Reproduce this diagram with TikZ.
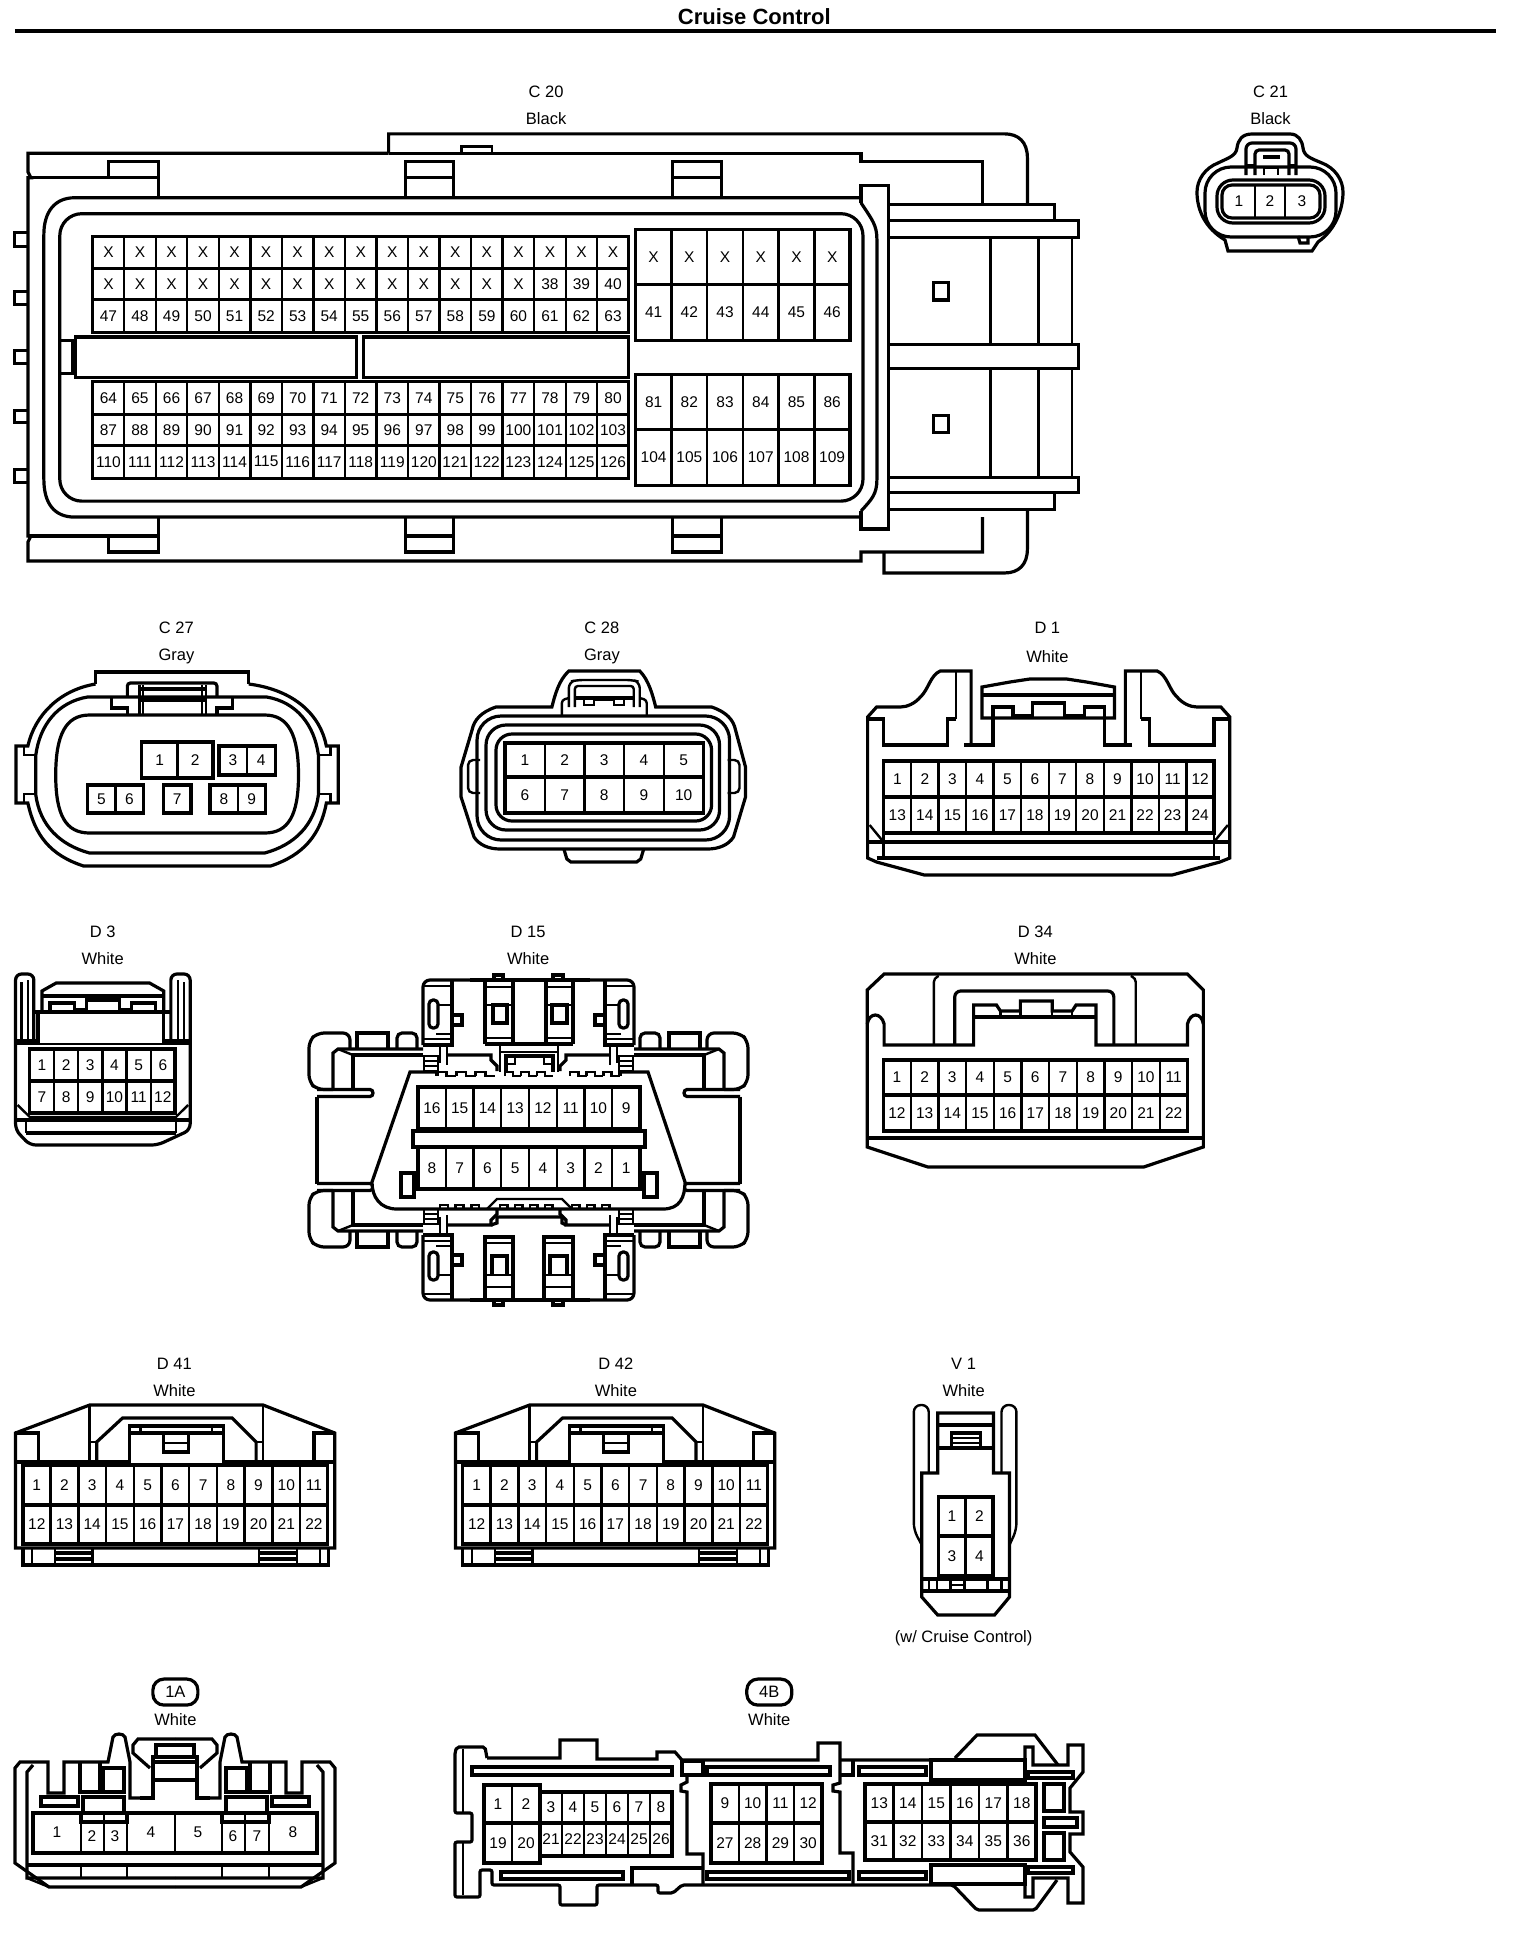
\documentclass[tikz,border=0pt]{standalone}
\usepackage{fontspec}
\setmainfont{Liberation Sans}
\tikzset{
 oline/.style={line width=3.2pt,line join=miter,line cap=butt},
 tline/.style={line width=2.4pt,line join=miter,line cap=butt},
 pin/.style={inner sep=0pt,font=\fontsize{15.5}{16}\selectfont},
 lab/.style={inner sep=0pt,font=\fontsize{16.5}{18}\selectfont},
}
% x0 x1 y0 y1 ncols list
\newcommand\pinrow[6]{%
 \pgfmathsetmacro\wcell{(#2-#1)/#5}%
 \foreach \t [count=\i from 0] in {#6}{%
  \pgfmathsetmacro\xa{#1+\i*\wcell}%
  \pgfmathsetmacro\xb{\xa+\wcell}%
  \draw[tline] (\xa,#3) rectangle (\xb,#4);
  \node[pin] at ({(\xa+\xb)/2},{(#3+#4)/2}) {\t};
 }%
 \draw[oline] (#1,#3) rectangle (#2,#4);
}
% teeth x0 x1 y h n
\newcommand\teethrow[5]{%
 \pgfmathsetmacro\wt{(#2-#1)/#5}%
 \foreach \i in {1,...,#5}{%
  \pgfmathsetmacro\ta{#1+(\i-1)*\wt}%
  \pgfmathsetmacro\tb{\ta+\wt/2}%
  \pgfmathsetmacro\tc{\ta+\wt}%
  \draw[tline] (\ta,#3) -- (\ta,{#3-#4}) -- (\tb,{#3-#4}) -- (\tb,#3) -- (\tc,#3);
 }}
% D15 corner group (top-left orientation)
\newcommand\dfcorner{%
 \draw[oline,rounded corners=7pt] (350,1048) -- (350,1033) -- (317,1033) -- (309,1041) -- (309,1082) -- (317,1089.5) -- (333,1089.5);
 \draw[oline] (357,1048) -- (357,1033) -- (388,1033) -- (388,1048);
 \draw[oline,rounded corners=5pt] (397,1048) -- (397,1033) -- (417,1033) -- (417,1048);
 \draw[oline] (333,1089) -- (333,1053) -- (338,1049) -- (423,1049);
 \draw[oline] (353,1089) -- (353,1055) -- (423,1055);
 \draw[tline] (338,1049) -- (353,1055);
 \draw[oline] (317,1089.5) -- (370,1089.5) .. controls (374,1089.5) and (374,1096.5) .. (370,1096.5) -- (317,1096.5);
 % module
 \draw[oline,rounded corners=7pt] (423,1045) -- (423,980) -- (470,980);
 \draw[oline] (452,980) -- (452,1045) -- (423,1045);
 \draw[tline] (423,986) -- (452,986);
 \draw[tline] (423,1039) -- (452,1039);
 \draw[tline] (438,1005) -- (452,1005);
 \draw[tline] (436,1034) -- (452,1034);
 \draw[oline,fill=white,rounded corners=4pt] (429,1000) rectangle (438,1028);
 \draw[oline] (452,1015) rectangle (462,1025);
 % links
 \draw[tline] (440,1045) -- (440,1063);
 \draw[tline] (447,1045) -- (447,1065);
 \draw[tline] (424,1056) rectangle (438,1071);
 \draw[tline] (424,1061) -- (438,1061);
 \draw[tline] (424,1066) -- (438,1066);
 \draw[oline] (447,1055) -- (491,1055) -- (491,1060) -- (497,1066) -- (497,1071);
}
\begin{document}
\begin{tikzpicture}[x=1pt,y=-1pt]
\useasboundingbox (0,0) rectangle (1536,1936);
\begin{scope}[scale=0.9965]
\node[inner sep=0pt,font=\fontsize{22}{24}\bfseries\selectfont] (title) at (757,17) {Cruise Control};
\coordinate (ruleL) at (15,31);
\coordinate (ruleR) at (1501,31);
\draw[line width=4pt] (ruleL) -- (ruleR);
% ---- labels
\node[lab] (c20a) at (548,92) {C 20}; \node[lab] (c20b) at (548,119) {Black};
\node[lab] (c21a) at (1275,92) {C 21}; \node[lab] (c21b) at (1275,119) {Black};
\node[lab] (c27a) at (177,630) {C 27}; \node[lab] (c27b) at (177,659) {Gray};
\node[lab] (c28a) at (604,630) {C 28}; \node[lab] (c28b) at (604,659) {Gray};
\node[lab] (d1a) at (1051,630) {D 1}; \node[lab] (d1b) at (1051,659) {White};
\node[lab] (d3a) at (103,935) {D 3}; \node[lab] (d3b) at (103,962) {White};
\node[lab] (d15a) at (530,935) {D 15}; \node[lab] (d15b) at (530,962) {White};
\node[lab] (d34a) at (1039,935) {D 34}; \node[lab] (d34b) at (1039,962) {White};
\node[lab] (d41a) at (175,1369) {D 41}; \node[lab] (d41b) at (175,1395) {White};
\node[lab] (d42a) at (618,1369) {D 42}; \node[lab] (d42b) at (618,1395) {White};
\node[lab] (v1a) at (967,1369) {V 1}; \node[lab] (v1b) at (967,1395) {White};
\node[lab] (v1c) at (967,1644) {(w/ Cruise Control)};
\node[lab,draw,line width=3.2pt,rounded corners=11pt,minimum width=45pt,minimum height=26pt] (b1a) at (176,1698) {1A};
\node[lab,draw,line width=3.2pt,rounded corners=11pt,minimum width=45pt,minimum height=26pt] (b4b) at (772,1698) {4B};
\node[lab] (w1a) at (176,1726) {White};
\node[lab] (w4b) at (772,1726) {White};
\end{scope}
% ==== C20
\begin{scope}[shift={(0,0.12)},xscale=0.9965,yscale=0.998]
\draw[oline] (390,153.5) -- (28,153.5) -- (28,172) -- (31,178) -- (28,178) -- (28,537) -- (31,537) -- (28,543) -- (28,562) -- (864,562) -- (864,553) -- (986,553) -- (986,518);
\draw[oline] (390,153.5) -- (864,153.5) -- (864,162) -- (986,162) -- (986,203);
\draw[oline] (390,153.5) -- (390,134) -- (1008,134) .. controls (1022,134) and (1031,142) .. (1031,158) -- (1031,205);
\draw[oline] (887,553) -- (887,574) -- (1008,574) .. controls (1022,574) and (1031,566) .. (1031,550) -- (1031,510);
\draw[tline] (463,153) -- (463,146.5) -- (494,146.5) -- (494,153);
\draw[oline] (28,178) -- (159,178);
\draw[oline] (28,537) -- (159,537);
\draw[oline] (159,198) -- (159,162) -- (109,162) -- (109,178);
\draw[oline] (159,518) -- (159,553) -- (109,553) -- (109,537);
\foreach \a/\b in {407/455,675/724}{
 \draw[oline] (\a,198) -- (\a,162) -- (\b,162) -- (\b,198);
 \draw[oline] (\a,178) -- (\b,178);
 \draw[oline] (\a,518) -- (\a,553) -- (\b,553) -- (\b,518);
 \draw[oline] (\a,537) -- (\b,537);
}
\foreach \a/\b in {233/247,292/305,351/364,411/423,470/483}{
 \draw[oline] (28,\a) -- (14.5,\a) -- (14.5,\b) -- (28,\b);
}
\draw[oline] (864,198) -- (75,198) .. controls (55,198) and (44,212) .. (44,235) -- (44,480) .. controls (44,505) and (55,518) .. (75,518) -- (864,518);
\draw[oline] (864,203) .. controls (875,220) and (880,225) .. (880,240) -- (880,480) .. controls (880,495) and (875,500) .. (864,512);
\draw[oline,rounded corners=22pt] (60,214) rectangle (866,502);
\draw[oline] (60,341) -- (73,341) -- (73,374) -- (60,374);
\draw[oline] (864,203) -- (864,186) -- (892,186) -- (892,530) -- (864,530) -- (864,512);
\draw[oline] (892,205) -- (1058,205) -- (1058,221);
\draw[oline] (892,510) -- (1058,510) -- (1058,493.5);
\draw[oline] (892,221) rectangle (1082,237.5);
\draw[oline] (892,345) rectangle (1082,369);
\draw[oline] (892,478) rectangle (1082,493.5);
\foreach \x in {994,1042,1075.5}{
 \draw[tline] (\x,237.5) -- (\x,345);
 \draw[tline] (\x,369) -- (\x,478);
}
\draw[oline] (936.5,283) rectangle (952,300.5);
\draw[oline] (936.5,416) rectangle (952,433);
\draw[oline] (76,337.5) rectangle (358,378);
\draw[oline] (365,337.5) rectangle (631,378);
\pinrow{93}{631}{237}{269}{17}{X,X,X,X,X,X,X,X,X,X,X,X,X,X,X,X,X}
\pinrow{93}{631}{269}{300}{17}{X,X,X,X,X,X,X,X,X,X,X,X,X,X,38,39,40}
\pinrow{93}{631}{300}{333}{17}{47,48,...,63}
\pinrow{93}{631}{382}{415}{17}{64,65,...,80}
\pinrow{93}{631}{415}{446}{17}{87,88,...,103}
\pinrow{93}{631}{446}{479}{17}{110,111,...,126}
\pinrow{638}{853}{230}{285}{6}{X,X,X,X,X,X}
\pinrow{638}{853}{285}{341}{6}{41,42,...,46}
\pinrow{638}{853}{375}{430}{6}{81,82,...,86}
\pinrow{638}{853}{430}{486}{6}{104,105,...,109}
\end{scope}
% ==== C21
\begin{scope}
\draw[oline] (1252,134) .. controls (1242,134) and (1238,140) .. (1237,148) .. controls (1236,156) and (1228,158) .. (1218,163) .. controls (1205,168) and (1197,180) .. (1197,192) .. controls (1197,210) and (1205,228) .. (1225,240) -- (1228,251) -- (1312,251) -- (1318,242) .. controls (1335,230) and (1343,210) .. (1343,192) .. controls (1343,180) and (1335,168) .. (1322,163) .. controls (1310,158) and (1304,156) .. (1303,148) .. controls (1302,140) and (1298,134) .. (1290,134) -- cycle;
\draw[oline,rounded corners=26pt] (1205,167) rectangle (1336,237);
\draw[oline,rounded corners=16pt] (1217,180) rectangle (1325,223);
\draw[oline,rounded corners=10pt] (1222,185) rectangle (1320,218);
\draw[tline] (1255,185) -- (1255,218);
\draw[tline] (1285,185) -- (1285,218);
\node[pin] at (1239,201) {1};
\node[pin] at (1270,201) {2};
\node[pin] at (1302,201) {3};
\draw[oline,rounded corners=6pt] (1246,175) -- (1246,143) -- (1296,143) -- (1296,175);
\draw[oline,rounded corners=4pt] (1255,175) -- (1255,150) -- (1289,150) -- (1289,175);
\draw[tline] (1246,165) -- (1255,165);
\draw[tline] (1289,165) -- (1296,165);
\draw[oline] (1263,157) -- (1280,157);
\draw[tline] (1264,168) -- (1278,168) -- (1278,175) ;
\draw[tline] (1264,168) -- (1264,175);
\draw[oline] (1298,236) -- (1300,243) -- (1308,243) -- (1308,236);
\end{scope}
% ==== C27
\begin{scope}[xscale=0.995]
\draw[oline] (96,684) -- (96,672) -- (250,672) -- (250,684);
\draw[oline] (96,684) .. controls (60,690) and (35,715) .. (28,746) -- (16,746) -- (16,803) -- (28,803) .. controls (35,835) and (50,855) .. (84,866) -- (272,866) .. controls (305,855) and (322,835) .. (328,803) -- (340,803) -- (340,746) -- (328,746) .. controls (322,715) and (296,690) .. (250,684);
\draw[oline] (88,697) .. controls (58,702) and (40,725) .. (36,755) -- (36,795) .. controls (40,825) and (60,845) .. (90,853) -- (266,853) .. controls (296,845) and (316,825) .. (320,795) -- (320,755) .. controls (316,725) and (298,702) .. (268,697) -- cycle;
\draw[tline] (24,746) -- (24,755) -- (36,755);
\draw[tline] (24,803) -- (24,794) -- (36,794);
\draw[tline] (332,746) -- (332,755) -- (320,755);
\draw[tline] (332,803) -- (332,794) -- (320,794);
\draw[oline] (56,775) .. controls (56,735) and (66,715) .. (90,715) -- (266,715) .. controls (290,715) and (300,735) .. (300,775) .. controls (300,815) and (290,833) .. (266,833) -- (90,833) .. controls (66,833) and (56,815) .. (56,775) -- cycle;
\draw[oline,rounded corners=3pt] (128,697) -- (128,683) -- (218,683) -- (218,697);
\draw[tline] (140,685) -- (140,715);
\draw[tline] (207,685) -- (207,715);
\draw[tline] (144,685) -- (144,715);
\draw[tline] (203,685) -- (203,715);
\draw[oline] (140,689) -- (207,689);
\draw[oline] (140,700) -- (207,700);
\draw[oline] (112,698) -- (112,708) -- (128,708) -- (128,715);
\draw[oline] (234,698) -- (234,708) -- (218,708) -- (218,715);
\pinrow{142.5}{214}{742}{778}{2}{1,2}
\pinrow{220}{276.5}{746}{775}{2}{3,4}
\pinrow{88}{144}{785}{813}{2}{5,6}
\pinrow{164}{192}{785}{813}{1}{7}
\pinrow{211}{267}{785}{813}{2}{8,9}
\end{scope}
% ==== C28
\begin{scope}[xscale=0.998]
\draw[oline] (570,671) -- (641,671) .. controls (650,680) and (654,695) .. (657,707) -- (713,707) .. controls (728,712) and (735,720) .. (737,730) -- (747,767) -- (747,797) -- (735,837) .. controls (730,845) and (720,849) .. (709,849) -- (501,849) .. controls (490,849) and (480,845) .. (475,837) -- (462,797) -- (462,767) -- (473,730) .. controls (475,720) and (482,712) .. (497,707) -- (553,707) .. controls (556,695) and (560,680) .. (570,671) -- cycle;
\draw[oline,rounded corners=24pt] (478,716) rectangle (731,840);
\draw[oline,rounded corners=20pt] (487,725) rectangle (721,830);
\draw[oline,rounded corners=16pt] (497,734) rectangle (713,821);
\draw[tline,rounded corners=5pt] (729,760) -- (741,760) -- (741,793) -- (729,793);
\draw[tline,rounded corners=5pt] (481,760) -- (469,760) -- (469,793) -- (481,793);
\draw[oline] (565,849) -- (568,859) -- (572,862) -- (638,862) -- (642,859) -- (645,849);
\draw[tline,rounded corners=6pt] (570,707) -- (570,682) -- (578,680) -- (634,680) -- (641,682) -- (641,707);
\draw[tline,rounded corners=3pt] (576,707) -- (576,686) -- (635,686) -- (635,707);
\draw[tline,rounded corners=3pt] (563,716) -- (563,700) -- (570,698);
\draw[tline,rounded corners=3pt] (648,716) -- (648,700) -- (641,698);
\draw[oline] (576,698) -- (635,698);
\draw[tline] (585,698) -- (585,705) -- (595,705) -- (595,700) -- (615,700) -- (615,705) -- (625,705) -- (625,698);
\pinrow{506}{705}{743}{777}{5}{1,2,3,4,5}
\pinrow{506}{705}{777}{813}{5}{6,7,8,9,10}
\end{scope}
% ==== D1
\begin{scope}[xscale=0.995]
\draw[oline] (976,745) -- (976,671) -- (945,671) .. controls (935,675) and (933,690) .. (925,697) .. controls (920,703) and (912,707) .. (905,707) -- (881,707) -- (872,717) -- (872,858) -- (881,862) -- (929,875) -- (1178,875) -- (1226,862) -- (1236,858) -- (1236,717) -- (1227,707) -- (1203,707) .. controls (1196,707) and (1188,703) .. (1183,697) .. controls (1175,690) and (1173,675) .. (1163,671) -- (1131,671) -- (1131,745);
\draw[tline] (961,671) -- (961,719);
\draw[tline] (1147,671) -- (1147,719);
\draw[oline] (872,719) -- (888,719) -- (888,745) -- (952,745) -- (952,719) -- (961,719);
\draw[oline] (969,745) -- (998,745) -- (998,719);
\draw[oline] (1236,719) -- (1220,719) -- (1220,745) -- (1155,745) -- (1155,719) -- (1147,719);
\draw[oline] (1138,745) -- (1110,745) -- (1110,719);
\draw[oline] (987,718) -- (987,687) -- (1015,682) -- (1035,679) -- (1072,679) -- (1092,682) -- (1120,687) -- (1120,718) -- cycle;
\draw[oline] (987,695) -- (1120,695);
\draw[oline] (998,718) -- (998,707) -- (1018,707) -- (1018,716) -- (1038,716) -- (1038,703) -- (1070,703) -- (1070,716) -- (1090,716) -- (1090,707) -- (1110,707) -- (1110,718);
\draw[oline] (872,842) -- (1236,842);
\draw[oline] (881,858) -- (1226,858);
\draw[tline] (888,833) -- (888,858);
\draw[tline] (1220,833) -- (1220,858);
\draw[tline] (874,825) -- (888,842);
\draw[tline] (1234,825) -- (1220,842);
\pinrow{888}{1220}{761}{797}{12}{1,2,...,12}
\pinrow{888}{1220}{797}{833}{12}{13,14,...,24}
\end{scope}
% ==== D3
\begin{scope}[shift={(-2.7,0)},xscale=1.015]
\draw[oline,rounded corners=6pt] (36,1041) -- (36,974) -- (18,974) -- (18,1130) -- (32,1145) -- (158,1145) -- (190,1130) -- (190,974) -- (171,974) -- (171,1041);
\draw[tline] (24,982) -- (24,1041);
\draw[tline] (184,982) -- (184,1041);
\draw[tline] (30,980) -- (30,1041);
\draw[tline] (178,980) -- (178,1041);
\draw[oline] (18,1041) -- (40,1041) -- (40,1014);
\draw[oline] (190,1041) -- (164,1041) -- (164,1014);
\draw[tline] (18,1044) -- (190,1044);
\draw[oline] (36,1012) -- (172,1012);
\draw[oline] (44,1012) -- (44,991) -- (58,983) -- (150,983) -- (164,991) -- (164,1012);
\draw[oline] (44,996) -- (164,996);
\draw[oline] (52,1012) -- (52,1003) -- (76,1003) -- (76,1010) -- (88,1010) -- (88,1000) -- (120,1000) -- (120,1010) -- (132,1010) -- (132,1003) -- (156,1003) -- (156,1012);
\draw[oline] (18,1120) -- (190,1120);
\draw[oline] (28,1133) -- (176,1133);
\draw[tline] (28,1120) -- (28,1133);
\draw[tline] (176,1120) -- (176,1133);
\draw[tline] (20,1105) -- (32,1117) -- (176,1117) -- (188,1105);
\pinrow{32}{175}{1049}{1081}{6}{1,2,...,6}
\pinrow{32}{175}{1081}{1113}{6}{7,8,...,12}
\end{scope}
% ==== D15
\begin{scope}
\dfcorner
\begin{scope}[shift={(1057,0)},xscale=-1]\dfcorner\end{scope}
\begin{scope}[shift={(0,2280)},yscale=-1]\dfcorner\end{scope}
\begin{scope}[shift={(1057,2280)},xscale=-1,yscale=-1]\dfcorner\end{scope}
% side walls
\draw[oline] (317,1096.5) -- (317,1183.5);
\draw[oline] (740,1096.5) -- (740,1183.5);
% top middle
\draw[oline] (470,980) -- (590,980);
\draw[oline] (485,1044) -- (485,980);
\draw[oline] (513,1044) -- (513,980);
\draw[oline] (546,1044) -- (546,980);
\draw[oline] (573,1044) -- (573,980);
\draw[oline] (485,1044) -- (573,1044);
\foreach \a/\b/\c/\d in {485/513/493/507,546/573/552/567}{
 \draw[tline] (\a,987) -- (\b,987);
 \draw[tline] (\a,1038) -- (\b,1038);
 \draw[oline] (\c,1005) rectangle (\d,1023);
 \draw[tline] (\a,1005) -- (\b,1005);
}
\draw[oline] (494,980) -- (494,975) -- (503,975) -- (503,980);
\draw[oline] (553,980) -- (553,975) -- (563,975) -- (563,980);
\draw[tline] (500,1045) rectangle (558,1052);
\draw[tline] (500,1052) -- (500,1072);
\draw[tline] (558,1052) -- (558,1072);
\draw[oline] (506,1072) -- (506,1056) -- (553,1056) -- (553,1072);
\draw[tline] (506,1064) -- (515,1064) -- (515,1056);
\draw[tline] (553,1064) -- (544,1064) -- (544,1056);
% bottom middle
\draw[oline] (470,1300) -- (590,1300);
\foreach \a/\b/\c/\d in {485/513/492/507,544/573/550/567}{
 \draw[oline] (\a,1300) -- (\a,1237) -- (\b,1237) -- (\b,1300);
 \draw[tline] (\a,1243) -- (\b,1243);
 \draw[tline] (\a,1287) -- (\b,1287);
 \draw[oline] (\c,1275) -- (\c,1256) -- (\d,1256) -- (\d,1275);
 \draw[tline] (\a,1275) -- (\b,1275);
}
\draw[oline] (494,1300) -- (494,1305) -- (503,1305) -- (503,1300);
\draw[oline] (553,1300) -- (553,1305) -- (563,1305) -- (563,1300);
\draw[oline] (491,1225) -- (497,1223) -- (497,1217) -- (562,1217) -- (562,1223) -- (566,1225);
% body
\draw[oline,fill=white] (437,1072) -- (410,1072) -- (372,1182) .. controls (372,1197) and (380,1209) .. (397,1209) -- (663,1209) .. controls (680,1209) and (685,1197) .. (685,1182) -- (648,1072) -- (620,1072);
\teethrow{437}{495}{1076}{4}{3}
\teethrow{505}{553}{1076}{4}{3}
\teethrow{570}{620}{1076}{4}{3}
\draw[oline] (437,1072) -- (437,1076);
\draw[oline] (620,1072) -- (620,1076);
\teethrow{440}{487}{1209}{4}{3}
\teethrow{500}{560}{1209}{4}{4}
\teethrow{572}{617}{1209}{4}{3}
\draw[tline] (487,1209) -- (497,1199) -- (562,1199) -- (572,1209);
\draw[oline] (401,1173) rectangle (414,1197);
\draw[oline] (644,1173) rectangle (657,1197);
\pinrow{418}{640}{1087}{1129}{8}{16,15,14,13,12,11,10,9}
\pinrow{418}{640}{1147}{1189}{8}{8,7,6,5,4,3,2,1}
\draw[oline,fill=white] (413,1131) rectangle (645,1147);
\end{scope}
% ==== D34
\begin{scope}[xscale=0.9945]
\draw[oline] (872,990) -- (889,974) -- (1194,974) -- (1210,990) -- (1210,1147) -- (1150,1167) -- (933,1167) -- (872,1147) -- cycle;
\draw[oline] (872,1138) -- (1210,1138);
\draw[oline] (872,1024) .. controls (874,1012) and (886,1012) .. (889,1024) -- (889,1045) -- (979,1045) -- (979,1005) -- (1002,1005) -- (1006,1011) -- (1026,1011) -- (1026,1001) -- (1058,1001) -- (1058,1011) -- (1078,1011) -- (1082,1005) -- (1102,1005) -- (1102,1045) -- (1194,1045) -- (1194,1024) .. controls (1197,1012) and (1208,1012) .. (1210,1024);
\draw[oline,rounded corners=6pt] (960,1045) -- (960,991) -- (1120,991) -- (1120,1045);
\draw[tline,rounded corners=4pt] (939,1045) -- (939,978) -- (944,976);
\draw[tline,rounded corners=4pt] (1142,1045) -- (1142,978) -- (1137,976);
\draw[oline] (979,1017) -- (1102,1017);
\draw[tline] (1006,1011) -- (1006,1017);
\draw[tline] (1026,1011) -- (1026,1017);
\draw[tline] (1058,1011) -- (1058,1017);
\draw[tline] (1078,1011) -- (1078,1017);
\pinrow{888}{1194}{1060}{1095}{11}{1,2,...,11}
\pinrow{888}{1194}{1095}{1131}{11}{12,13,...,22}
\end{scope}
% ==== D41 / D42
\begin{scope}[xscale=0.9965]
\foreach \sx/\tag in {0/a,441.5/b}{
\begin{scope}[shift={(\sx,0)}]
\draw[oline] (15.5,1548) -- (15.5,1433) -- (90,1405) -- (264,1405) -- (336,1433) -- (336,1548) -- cycle;
\draw[oline] (15.5,1462) -- (336,1462);
\draw[oline] (15.5,1433) -- (39,1433) -- (39,1462);
\draw[oline] (336,1433) -- (315,1433) -- (315,1462);
\draw[tline] (90,1405) -- (90,1465);
\draw[tline] (264,1405) -- (264,1465);
\draw[oline] (97,1465) -- (97,1442) -- (123,1418) -- (233,1418) -- (257,1442) -- (257,1465);
\draw[tline] (90,1442) -- (97,1442);
\draw[tline] (257,1442) -- (264,1442);
\draw[oline,fill=white] (130,1465) -- (130,1426) -- (224,1426) -- (224,1465);
\draw[oline] (130,1433) -- (224,1433);
\draw[tline] (141,1426) -- (141,1433);
\draw[tline] (213,1426) -- (213,1433);
\draw[oline,fill=white] (164,1433) rectangle (189,1452);
\draw[tline] (164,1443) -- (189,1443);
\draw[oline] (23,1548) -- (23,1565) -- (330,1565) -- (330,1548);
\foreach \x in {32,55,93,260,298,321}{\draw[tline] (\x,1548) -- (\x,1565);}
\draw[oline] (55,1553) -- (93,1553);
\draw[oline] (55,1559) -- (93,1559);
\draw[oline] (260,1553) -- (298,1553);
\draw[oline] (260,1559) -- (298,1559);
\pinrow{23}{329}{1465}{1505}{11}{1,2,...,11}
\pinrow{23}{329}{1505}{1544}{11}{12,13,...,22}
\end{scope}}
\end{scope}
% ==== V1
\begin{scope}[xscale=0.9965]
\draw[oline] (941,1473) -- (941,1413) -- (997,1413) -- (997,1473) -- (1013,1473) -- (1013,1597) -- (998,1615) -- (941,1615) -- (925,1597) -- (925,1473) -- cycle;
\draw[tline,rounded corners=7pt] (932,1473) -- (932,1405) -- (917,1405) -- (917,1530) -- (925,1545);
\draw[tline,rounded corners=7pt] (1005,1473) -- (1005,1405) -- (1020,1405) -- (1020,1530) -- (1013,1545);
\draw[oline] (941,1425) -- (997,1425);
\draw[oline] (941,1448) -- (997,1448);
\draw[oline] (955,1448) -- (955,1433) -- (984,1433) -- (984,1448);
\draw[tline] (955,1438) -- (984,1438);
\draw[tline] (955,1443) -- (984,1443);
\draw[oline] (925,1579) -- (1013,1579);
\draw[oline] (925,1591) -- (1013,1591);
\foreach \x in {932,940,954,968,991,1005}{\draw[tline] (\x,1579) -- (\x,1591);}
\draw[tline] (954,1585) -- (968,1585);
\pinrow{941.5}{996.5}{1497}{1536}{2}{1,2}
\pinrow{941.5}{996.5}{1536}{1576}{2}{3,4}
\end{scope}
% ==== 1A
\begin{scope}
\newcommand\onealeft{%
\draw[oline] (140,1798) -- (130,1798) -- (130,1762) -- (125,1737) .. controls (123,1733) and (115,1733) .. (113,1737) -- (108,1762) -- (64,1762) -- (64,1793) -- (48,1793) -- (48,1762) -- (20,1762) -- (15,1768) -- (15,1863) -- (49,1887) -- (175,1887);
\draw[oline] (33,1765) -- (27,1772) -- (27,1878) -- (175,1878);
\draw[tline] (27,1878) -- (49,1887);
\draw[oline] (80,1762) -- (80,1792) -- (100,1792) -- (100,1762);
\draw[oline] (103,1768) rectangle (124,1792);
\draw[oline] (41,1797) rectangle (78,1806);
\draw[oline] (83,1797) rectangle (124,1813);
\draw[oline] (140,1798) -- (153,1798) -- (153,1757) -- (175,1757);
\draw[oline] (150,1768) -- (133,1753) -- (133,1745) -- (138,1739) -- (175,1739);
\draw[oline] (156,1757) -- (156,1745) -- (175,1745);
\draw[oline] (153,1762) -- (175,1762);
\draw[oline] (153,1780) -- (175,1780);
\draw[oline] (27,1865) -- (175,1865);
}
\onealeft
\begin{scope}[shift={(350,0)},xscale=-1]\onealeft\end{scope}
\foreach \x in {81,127,222,269}{\draw[tline] (\x,1865) -- (\x,1878);}
\draw[oline] (33,1813) -- (33,1853) -- (317,1853) -- (317,1813) -- (269,1813) -- (269,1822) -- (222,1822) -- (222,1813) -- (127,1813) -- (127,1822) -- (81,1822) -- (81,1813) -- cycle;
\foreach \x in {81,104,127,175,222,245,269}{\draw[tline] (\x,1813) -- (\x,1853);}
\node[pin] at (57,1832) {1};
\node[pin] at (92,1836) {2};
\node[pin] at (115,1836) {3};
\node[pin] at (151,1832) {4};
\node[pin] at (198,1832) {5};
\node[pin] at (233,1836) {6};
\node[pin] at (257,1836) {7};
\node[pin] at (293,1832) {8};
\end{scope}
% ==== 4B
\begin{scope}
\draw[oline,rounded corners=2pt] (487,1758) -- (485,1747) -- (457,1747) -- (455,1752) -- (455,1813) -- (472,1813) -- (472,1842) -- (455,1842) -- (455,1897) -- (480,1897) -- (480,1870) -- (492,1870) -- (492,1885) -- (560,1885) -- (560,1905) -- (597,1905) -- (597,1885) -- (658,1885) -- (658,1893) -- (673,1893) -- (682,1885) -- (953,1885) -- (977,1910) -- (1035,1910) -- (1057,1880);
\draw[tline] (463,1749) -- (463,1813);
\draw[tline] (463,1842) -- (463,1895);
\draw[oline] (487,1758) -- (560,1758) -- (560,1740) -- (597,1740) -- (597,1759) -- (657,1759) -- (657,1752) -- (675,1752) -- (682,1760) -- (818,1760) -- (818,1743) -- (840,1743) -- (840,1783) -- (833,1785) -- (833,1791) -- (840,1792) -- (840,1853) -- (853,1853) -- (853,1884);
\draw[oline] (840,1760) -- (1025,1760) -- (1025,1747) -- (1033,1747) -- (1033,1765) -- (1068,1765) -- (1068,1745) -- (1083,1745) -- (1083,1772) -- (1070,1788) -- (1070,1812) -- (1083,1812) -- (1083,1834) -- (1070,1834) -- (1070,1852) -- (1083,1867) -- (1083,1903) -- (1068,1903) -- (1068,1878) -- (1033,1878) -- (1033,1897) -- (1025,1897) -- (1025,1885);
\draw[oline] (955,1758) -- (977,1735) -- (1035,1735) -- (1058,1765);
\draw[oline] (682,1761) rectangle (703,1775);
\draw[oline] (853,1761) -- (853,1775) -- (840,1775);
\draw[oline] (687,1776) -- (687,1782) -- (681,1785) -- (681,1791) -- (687,1792) -- (687,1854) -- (703,1854) -- (703,1885);
\draw[oline] (632,1885) -- (632,1868) -- (703,1868);
\draw[oline] (472,1767) rectangle (672,1775);
\draw[oline] (501,1872) rectangle (623,1879);
\draw[oline] (707,1767) rectangle (830,1775);
\draw[oline] (707,1872) rectangle (849,1879);
\draw[oline] (859,1767) rectangle (926,1775);
\draw[oline] (859,1872) rectangle (926,1879);
\draw[oline] (931,1760) rectangle (1025,1780);
\draw[oline] (931,1865) rectangle (1025,1884);
\draw[oline] (1028,1772) rectangle (1073,1778);
\draw[oline] (1028,1867) rectangle (1073,1873);
\draw[oline] (1044,1784) rectangle (1064,1811);
\draw[oline] (1044,1833) rectangle (1064,1860);
\draw[oline] (1044,1818) rectangle (1077,1827);
\pinrow{484}{540}{1785}{1823}{2}{1,2}
\pinrow{484}{540}{1823}{1863}{2}{19,20}
\pinrow{540}{672}{1792}{1823}{6}{3,4,...,8}
\pinrow{540}{672}{1823}{1856}{6}{21,22,...,26}
\pinrow{711}{822}{1784}{1823}{4}{9,10,11,12}
\pinrow{711}{822}{1823}{1863}{4}{27,28,29,30}
\pinrow{865}{1036}{1784}{1822}{6}{13,14,...,18}
\pinrow{865}{1036}{1822}{1860}{6}{31,32,...,36}
\end{scope}
\end{tikzpicture}
\end{document}
